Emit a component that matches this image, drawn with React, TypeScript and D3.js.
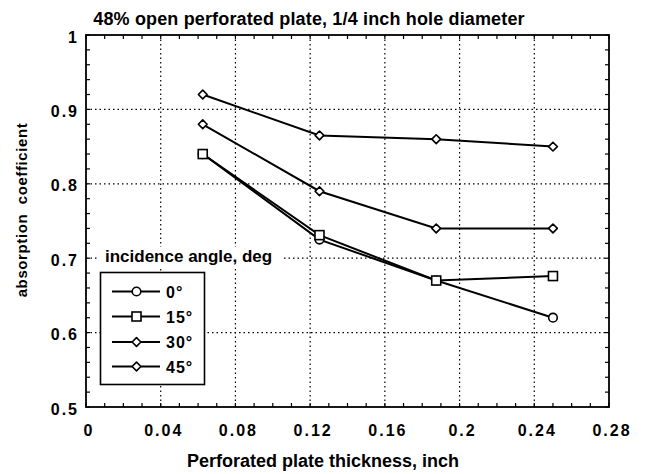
import React from "react";
import * as d3 from "d3";

const titleText = "48% open perforated plate, 1/4 inch hole diameter";
const xLabel = "Perforated plate thickness, inch";
const yLabel = "absorption  coefficient";
const legendTitle = "incidence angle, deg";

const xTicks = [0, 0.04, 0.08, 0.12, 0.16, 0.2, 0.24, 0.28];
const yTicks = [0.5, 0.6, 0.7, 0.8, 0.9, 1];
const thickness = [0.0625, 0.125, 0.1875, 0.25];
const seriesNames = ["0°", "15°", "30°", "45°"];
const deg0 = [0.84, 0.725, 0.67, 0.62];
const deg15 = [0.84, 0.731, 0.67, 0.676];
const deg30 = [0.88, 0.79, 0.74, 0.74];
const deg45 = [0.92, 0.865, 0.86, 0.85];
const markerKinds = ["circle", "square", "diamond", "diamond"];

const W = 645, H = 474;
const L = 86, R = 609, T = 35, B = 407;
const FONT = "'Liberation Sans', Arial, Helvetica, sans-serif";
const LS = 2; // tick label letter spacing

function Marker({ kind, x, y }: { kind: string; x: number; y: number }) {
  if (kind === "circle") return <circle cx={x} cy={y} r={4.3} fill="white" stroke="black" strokeWidth={1.6} />;
  if (kind === "square") return <rect x={x - 4.5} y={y - 4.5} width={9} height={9} fill="white" stroke="black" strokeWidth={1.6} />;
  const s = 4.4;
  return <path d={`M${x},${y - s}L${x + s},${y}L${x},${y + s}L${x - s},${y}Z`} fill="white" stroke="black" strokeWidth={1.6} strokeLinejoin="round" />;
}

export default function App() {
  const x = d3.scaleLinear().domain([0, 0.28]).range([L, R]);
  const y = d3.scaleLinear().domain([0.5, 1]).range([B, T]);
  const series = [deg0, deg15, deg30, deg45];
  const line = d3.line<[number, number]>().x(d => x(d[0])).y(d => y(d[1]));
  const xMinor = d3.range(0, 0.2801, 0.01);
  const yMinor = d3.range(0.5, 1.0001, 0.02);

  const legX = 100.5, legY = 272.5, legW = 104, legH = 112;
  const rowY = [291.5, 316.5, 342, 366.5];

  return (
    <svg width={W} height={H} style={{ position: "absolute", left: 0, top: 0, background: "white" }} fontFamily={FONT}>
      <rect x={0} y={0} width={W} height={H} fill="white" />
      <text x={309} y={25} textAnchor="middle" fontSize={18} fontWeight="bold" letterSpacing={0.15}>{titleText}</text>

      {/* grid */}
      {xTicks.slice(1, -1).map(t => (
        <line key={"gx" + t} x1={x(t)} x2={x(t)} y1={T} y2={B} stroke="black" strokeWidth={1.2} strokeDasharray="1.5,3" />
      ))}
      {yTicks.slice(1, -1).map(t => (
        <line key={"gy" + t} x1={L} x2={R} y1={y(t)} y2={y(t)} stroke="black" strokeWidth={1.2} strokeDasharray="1.5,3" />
      ))}

      {/* minor ticks */}
      {xMinor.map((t, i) => (
        <g key={"mx" + i}>
          <line x1={x(t)} x2={x(t)} y1={B} y2={B - 4} stroke="black" strokeWidth={1.2} />
          <line x1={x(t)} x2={x(t)} y1={T} y2={T + 4} stroke="black" strokeWidth={1.2} />
        </g>
      ))}
      {yMinor.map((t, i) => (
        <g key={"my" + i}>
          <line x1={L} x2={L + 4} y1={y(t)} y2={y(t)} stroke="black" strokeWidth={1.2} />
          <line x1={R} x2={R - 4} y1={y(t)} y2={y(t)} stroke="black" strokeWidth={1.2} />
        </g>
      ))}

      {/* data */}
      {series.map((vals, si) => (
        <path key={"l" + si} d={line(thickness.map((t, i) => [t, vals[i]] as [number, number])) || ""} fill="none" stroke="black" strokeWidth={2} />
      ))}
      {series.map((vals, si) =>
        thickness.map((t, i) => <Marker key={"m" + si + "-" + i} kind={markerKinds[si]} x={x(t)} y={y(vals[i])} />)
      )}

      {/* frame */}
      <rect x={L} y={T} width={R - L} height={B - T} fill="none" stroke="black" strokeWidth={1.8} />

      {/* tick labels */}
      {xTicks.map(t => (
        <text key={"xt" + t} x={x(t) + LS / 2 + 2} y={436} textAnchor="middle" fontSize={16} fontWeight="bold" letterSpacing={LS}>{d3.format("~g")(t)}</text>
      ))}
      {yTicks.map(t => (
        <text key={"yt" + t} x={77 + LS} y={y(t) + 7.5} textAnchor="end" fontSize={16} fontWeight="bold" letterSpacing={LS}>{d3.format("~g")(t)}</text>
      ))}
      <text x={323} y={467} textAnchor="middle" fontSize={18} fontWeight="bold">{xLabel}</text>
      <text transform={`translate(27,${210}) rotate(-90)`} textAnchor="middle" fontSize={15} fontWeight="bold" letterSpacing={0.6} style={{ whiteSpace: "pre" }}>{yLabel}</text>

      {/* legend */}
      <rect x={99} y={247} width={184} height={19} fill="white" />
      <text x={105} y={262} fontSize={17} fontWeight="bold">{legendTitle}</text>
      <rect x={legX} y={legY} width={legW} height={legH} fill="white" stroke="black" strokeWidth={1.6} />
      {seriesNames.map((n, i) => (
        <g key={"lg" + i}>
          <line x1={112} x2={160} y1={rowY[i]} y2={rowY[i]} stroke="black" strokeWidth={2} />
          <Marker kind={markerKinds[i]} x={136.5} y={rowY[i]} />
          <text x={166} y={rowY[i] + 6} fontSize={16} fontWeight="bold" letterSpacing={1}>{n}</text>
        </g>
      ))}
    </svg>
  );
}
